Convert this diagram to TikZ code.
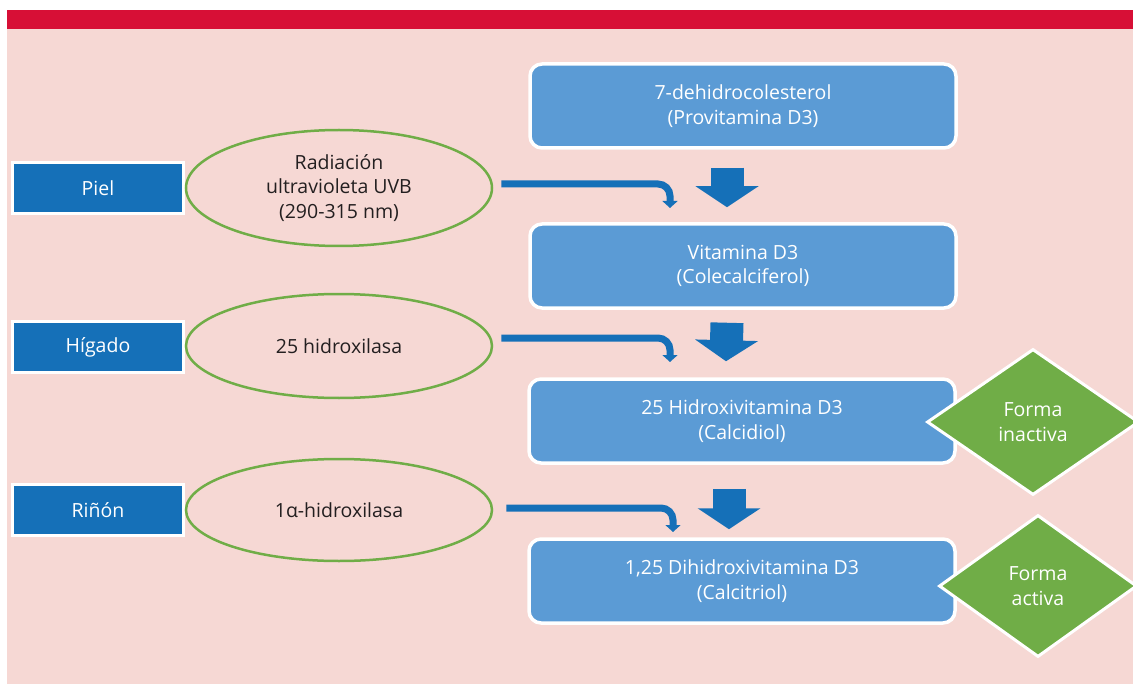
\documentclass[tikz,border=0pt]{standalone}
\usepackage{fontspec}
\setmainfont{Open Sans}[Scale=1]
\usetikzlibrary{shapes.geometric,arrows.meta,calc}
\definecolor{pinkbg}{HTML}{F6D8D4}
\definecolor{redband}{HTML}{D70F36}
\definecolor{darkblue}{HTML}{1570B8}
\definecolor{lightblue}{HTML}{5B9BD5}
\definecolor{leafgreen}{HTML}{70AD47}
\definecolor{textdark}{HTML}{231F20}
\begin{document}
\begin{tikzpicture}[x=1pt,y=-1pt,
  every node/.style={font=\fontsize{19.5}{24.5}\selectfont\color{textdark}, align=center},
  organ/.style={rectangle, draw=white, line width=3, fill=darkblue, minimum width=171, minimum height=51, inner sep=0, text=white},
  enzyme/.style={ellipse, draw=leafgreen, line width=2.5, minimum width=306, inner sep=0},
  compound/.style={rectangle, rounded corners=12, draw=white, line width=3.5, fill=lightblue, minimum width=426, minimum height=84, inner sep=0, text=white},
  forma/.style={diamond, draw=white, line width=3, fill=leafgreen, inner sep=0, text=white},
  bentarrow/.style={draw=darkblue, line width=7, rounded corners=12, -{Triangle[width=15,length=7]}},
  flow/.style={draw=darkblue, line width=33, -{Triangle[width=62,length=21]}}
]
\useasboundingbox (0,0) rectangle (1133,687);
\fill[white] (0,0) rectangle (1133,687);
\fill[pinkbg] (7,29) rectangle (1133,684);
\fill[redband] (7,10) rectangle (1133,29);

% left organ boxes
\node[organ] (piel) at (98,188) {Piel};
\node[organ] (higado) at (98,347) {Hígado};
\node[organ] (rinon) at (98,510) {Riñón};

% enzymes
\node[enzyme, minimum height=116] (uvb) at (339,188) {Radiación\\ultravioleta UVB\\(290-315 nm)};
\node[enzyme, minimum height=104] (hidr25) at (339,346) {25 hidroxilasa};
\node[enzyme, minimum height=102] (hidr1a) at (339,510) {1α-hidroxilasa};

% compounds
\node[compound] (c1) at (743,106) {7-dehidrocolesterol\\(Provitamina D3)};
\node[compound] (c2) at (743,266) {Vitamina D3\\(Colecalciferol)};
\node[compound] (c3) at (742,421) {25 Hidroxivitamina D3\\(Calcidiol)};
\node[compound] (c4) at (742,581) {1,25 Dihidroxivitamina D3\\(Calcitriol)};

% diamonds
\node[forma, minimum width=212, minimum height=146] (inact) at (1033,422) {Forma\\inactiva};
\node[forma, minimum width=198, minimum height=142] (act) at (1038,586) {Forma\\activa};

% big flow arrows
\draw[flow] ($(c1.south)+(-16,18)$) -- ($(c2.north)+(-16,-15)$);
\draw[flow] ($(c2.south)+(-16,13)$) -- ($(c3.north)+(-16,-16)$);
\draw[flow] ($(c3.south)+(-13,24)$) -- ($(c4.north)+(-13,-8)$);

% bent arrows from enzymes
\coordinate (t1) at (670,208);
\coordinate (t2) at (670,362);
\coordinate (t3) at (673,532);
\draw[bentarrow] ($(uvb.east)+(8,-4)$) -| (t1);
\draw[bentarrow] ($(hidr25.east)+(8,-8)$) -| (t2);
\draw[bentarrow] ($(hidr1a.east)+(13,-2)$) -| (t3);
\end{tikzpicture}
\end{document}
